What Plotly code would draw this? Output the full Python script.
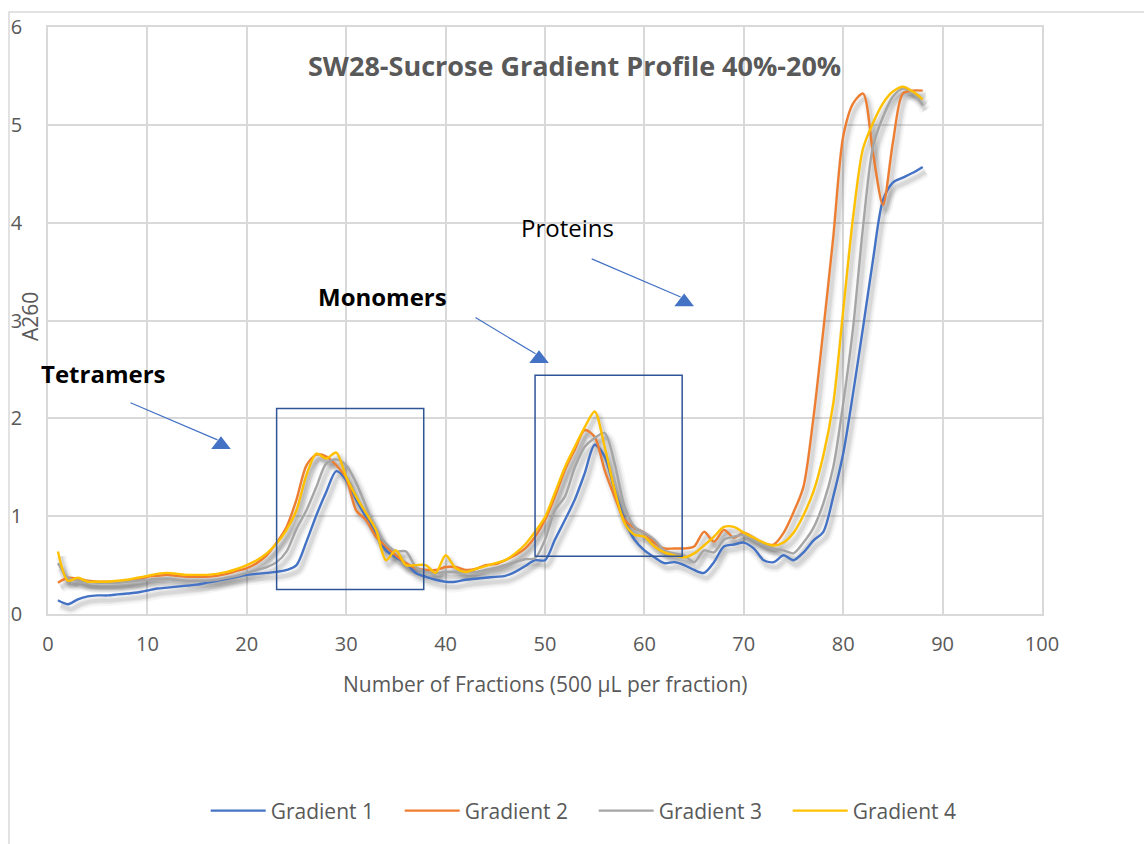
import plotly.graph_objects as go

# Fraction numbers (500 µL each) and A260 readings per gradient run
fractions = list(range(1, 89))

gradient_1 = [
    0.14, 0.10, 0.15, 0.18, 0.19, 0.19, 0.20, 0.21, 0.22, 0.24,
    0.26, 0.27, 0.28, 0.29, 0.30, 0.32, 0.34, 0.36, 0.38, 0.40,
    0.41, 0.42, 0.43, 0.45, 0.50, 0.74, 1.01, 1.25, 1.46, 1.37,
    1.17, 0.99, 0.83, 0.65, 0.58, 0.52, 0.42, 0.38, 0.35, 0.33,
    0.33, 0.35, 0.36, 0.37, 0.38, 0.39, 0.43, 0.49, 0.55, 0.55,
    0.76, 0.96, 1.17, 1.44, 1.73, 1.61, 1.27, 0.96, 0.76, 0.65,
    0.58, 0.52, 0.53, 0.50, 0.45, 0.42, 0.53, 0.69, 0.71, 0.73,
    0.67, 0.55, 0.53, 0.60, 0.55, 0.63, 0.75, 0.84, 1.20, 1.64,
    2.26, 2.93, 3.62, 4.23, 4.41, 4.46, 4.51, 4.57,
]
gradient_2 = [
    0.32, 0.37, 0.36, 0.34, 0.33, 0.33, 0.33, 0.34, 0.35, 0.38,
    0.39, 0.40, 0.39, 0.38, 0.38, 0.38, 0.39, 0.41, 0.44, 0.47,
    0.52, 0.60, 0.73, 0.89, 1.17, 1.52, 1.63, 1.61, 1.52, 1.39,
    1.06, 0.96, 0.79, 0.69, 0.60, 0.52, 0.47, 0.45, 0.45, 0.48,
    0.48, 0.45, 0.46, 0.50, 0.51, 0.55, 0.60, 0.67, 0.79, 0.96,
    1.20, 1.47, 1.68, 1.88, 1.81, 1.47, 1.20, 0.96, 0.88, 0.83,
    0.73, 0.67, 0.67, 0.67, 0.69, 0.84, 0.74, 0.86, 0.78, 0.83,
    0.78, 0.72, 0.71, 0.83, 1.04, 1.30, 2.00, 2.90, 3.85, 4.88,
    5.22, 5.32, 4.71, 4.18, 4.82, 5.32, 5.35, 5.35,
]
gradient_3 = [
    0.52, 0.37, 0.34, 0.33, 0.32, 0.32, 0.32, 0.33, 0.34, 0.35,
    0.36, 0.36, 0.35, 0.34, 0.34, 0.34, 0.35, 0.37, 0.39, 0.42,
    0.45, 0.48, 0.53, 0.64, 0.87, 1.06, 1.30, 1.54, 1.58, 1.52,
    1.34, 1.10, 0.86, 0.72, 0.64, 0.64, 0.48, 0.43, 0.42, 0.43,
    0.43, 0.43, 0.43, 0.45, 0.47, 0.50, 0.53, 0.56, 0.57, 0.76,
    1.06, 1.20, 1.50, 1.71, 1.80, 1.85, 1.54, 1.10, 0.89, 0.83,
    0.76, 0.65, 0.62, 0.60, 0.53, 0.65, 0.63, 0.76, 0.79, 0.81,
    0.76, 0.71, 0.67, 0.65, 0.62, 0.73, 0.88, 1.13, 1.50, 2.15,
    2.93, 3.96, 4.78, 5.08, 5.29, 5.37, 5.33, 5.20,
]
gradient_4 = [
    0.64, 0.34, 0.37, 0.33, 0.33, 0.33, 0.34, 0.35, 0.37, 0.39,
    0.41, 0.42, 0.41, 0.40, 0.40, 0.40, 0.41, 0.43, 0.46, 0.50,
    0.55, 0.62, 0.72, 0.86, 1.06, 1.42, 1.64, 1.59, 1.65, 1.40,
    1.20, 1.03, 0.86, 0.55, 0.65, 0.50, 0.50, 0.50, 0.42, 0.60,
    0.47, 0.43, 0.46, 0.49, 0.52, 0.55, 0.62, 0.71, 0.84, 0.99,
    1.24, 1.50, 1.71, 1.91, 2.07, 1.71, 1.27, 0.93, 0.81, 0.79,
    0.69, 0.63, 0.60, 0.58, 0.62, 0.70, 0.79, 0.89, 0.89, 0.83,
    0.78, 0.73, 0.70, 0.73, 0.83, 1.01, 1.25, 1.62, 2.15, 3.10,
    4.06, 4.76, 5.02, 5.22, 5.34, 5.39, 5.34, 5.26,
]

series_names = ["Gradient 1", "Gradient 2", "Gradient 3", "Gradient 4"]
series_values = [gradient_1, gradient_2, gradient_3, gradient_4]
series_colors = ["#4472C4", "#ED7D31", "#A5A5A5", "#FFC000"]

x_ticks = [0, 10, 20, 30, 40, 50, 60, 70, 80, 90, 100]
y_ticks = [0, 1, 2, 3, 4, 5, 6]

# Highlight boxes (fraction range, A260 range)
boxes = [
    (23.0, 37.8, 0.25, 2.10),
    (49.0, 63.8, 0.59, 2.44),
]

# Callouts: label, bold, label anchor (x, y), pixel nudge, arrow tail, arrow head
callouts = [
    ("Tetramers", True, (0.0, 2.46), -9, (8.3, 2.16), (17.4, 1.73)),
    ("Monomers", True, (27.4, 3.25), -4, (43.0, 3.03), (49.4, 2.61)),
    ("Proteins", False, (47.7, 3.95), -3, (54.7, 3.63), (64.0, 3.19)),
]

W, H = 1144, 844
ML, MR, MT, MB = 48, 102, 27, 230
plot_w = W - ML - MR
plot_h = H - MT - MB
X_RANGE = (0, 100)
Y_RANGE = (0, 6)
px_per_x = plot_w / (X_RANGE[1] - X_RANGE[0])
px_per_y = plot_h / (Y_RANGE[1] - Y_RANGE[0])

# Drop shadow offset (pixels right / down)
SHADOW_DX, SHADOW_DY = 3, 5

TEXT = "#595959"
GRID = "#D9D9D9"
FONT = "Open Sans"

fig = go.Figure()

# Soft shadow layer under the lines (base axes shifted by a few pixels)
for vals in series_values:
    for width, alpha in ((11, 0.035), (7, 0.05), (4, 0.07)):
        fig.add_trace(go.Scatter(
            x=fractions, y=vals, mode="lines",
            line=dict(color=f"rgba(0,0,0,{alpha})", width=width,
                      shape="spline", smoothing=0.8),
            xaxis="x", yaxis="y", showlegend=False, hoverinfo="skip",
        ))

# Data lines
for name, vals, color in zip(series_names, series_values, series_colors):
    fig.add_trace(go.Scatter(
        x=fractions, y=vals, mode="lines", name=name,
        line=dict(color=color, width=2.4, shape="spline", smoothing=0.8),
        xaxis="x2", yaxis="y2",
    ))

# Arrow heads for the callouts
fig.add_trace(go.Scatter(
    x=[c[5][0] for c in callouts], y=[c[5][1] for c in callouts],
    mode="markers",
    marker=dict(symbol="triangle-up", size=17, color="#4472C4",
                line=dict(width=0)),
    xaxis="x2", yaxis="y2", showlegend=False, hoverinfo="skip",
))

shapes = []
for x0, x1, y0, y1 in boxes:
    shapes.append(dict(type="rect", xref="x2", yref="y2",
                       x0=x0, x1=x1, y0=y0, y1=y1,
                       line=dict(color="#2F5597", width=1.5)))
for _, _, _, _, tail, head in callouts:
    shapes.append(dict(type="line", xref="x2", yref="y2",
                       x0=tail[0], y0=tail[1], x1=head[0] - 0.35, y1=head[1] + 0.05,
                       line=dict(color="#4472C4", width=1.2)))

# Outer chart frame
shapes.append(dict(type="rect", xref="paper", yref="paper",
                   x0=(9 - ML) / plot_w, x1=1.2,
                   y0=-0.6, y1=(H - MB - 12) / plot_h,
                   line=dict(color=GRID, width=1.5), layer="below"))

annotations = [
    dict(text="<b>SW28-Sucrose Gradient Profile 40%-20%</b>",
         xref="paper", yref="paper", x=0.53, y=(H - MB - 65) / plot_h,
         xanchor="center", yanchor="middle", showarrow=False,
         font=dict(family=FONT, size=27, color=TEXT)),
    dict(text="Number of Fractions (500 µL per fraction)",
         xref="paper", yref="paper", x=0.5, y=(H - MB - 684) / plot_h,
         xanchor="center", yanchor="middle", showarrow=False,
         font=dict(family=FONT, size=21, color=TEXT)),
    dict(text="A260", textangle=-90,
         xref="paper", yref="paper", x=(30 - ML) / plot_w, y=(H - MB - 317) / plot_h,
         xanchor="center", yanchor="middle", showarrow=False,
         font=dict(family=FONT, size=21, color=TEXT)),
]
for label, bold, pos, nudge, _, _ in callouts:
    annotations.append(dict(
        text=f"<b>{label}</b>" if bold else label,
        xref="x2", yref="y2", x=pos[0], y=pos[1], xshift=nudge,
        xanchor="left", yanchor="middle", showarrow=False,
        font=dict(family=FONT, size=24, color="#000000"),
    ))

axis_common = dict(showgrid=True, gridcolor=GRID, gridwidth=1.5,
                   zeroline=False, showline=True, linecolor=GRID, linewidth=1.5,
                   mirror=True, ticks="", tickfont=dict(family=FONT, size=20, color=TEXT))

fig.update_layout(
    width=W, height=H,
    margin=dict(l=ML, r=MR, t=MT, b=MB),
    paper_bgcolor="white", plot_bgcolor="white",
    font=dict(family=FONT, color=TEXT),
    xaxis=dict(range=[X_RANGE[0] - SHADOW_DX / px_per_x, X_RANGE[1] - SHADOW_DX / px_per_x],
               visible=False, showgrid=False),
    yaxis=dict(range=[Y_RANGE[0] + SHADOW_DY / px_per_y, Y_RANGE[1] + SHADOW_DY / px_per_y],
               visible=False, showgrid=False),
    xaxis2=dict(overlaying="x", anchor="y2", range=list(X_RANGE),
                tickvals=x_ticks, ticklabelstandoff=11, **axis_common),
    yaxis2=dict(overlaying="y", anchor="x2", range=list(Y_RANGE),
                tickvals=y_ticks, ticklabelstandoff=20, **axis_common),
    showlegend=True,
    legend=dict(orientation="h", x=0.549, xanchor="center",
                y=(H - MB - 811) / plot_h, yanchor="middle",
                font=dict(family=FONT, size=21, color=TEXT),
                itemwidth=55,
                entrywidth=124, entrywidthmode="pixels",
                bgcolor="rgba(0,0,0,0)"),
    shapes=shapes,
    annotations=annotations,
)

fig.write_html("out.html")
